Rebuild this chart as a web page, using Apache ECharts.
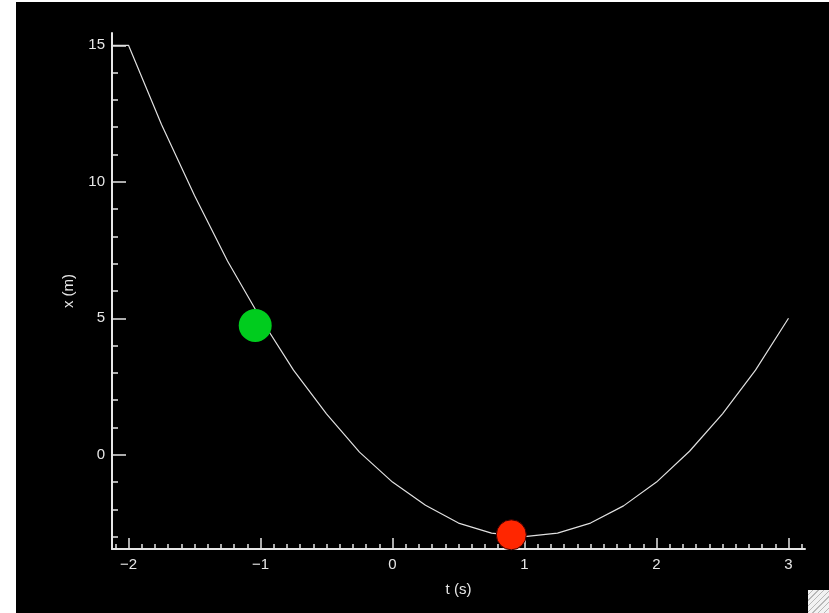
<!DOCTYPE html>
<html>
<head>
<meta charset="utf-8">
<script src="https://cdn.jsdelivr.net/npm/echarts@6/dist/echarts.min.js"></script>
<style>
html,body{margin:0;padding:0;background:#fff;width:829px;height:613px;overflow:hidden;position:relative;}
#bg{position:absolute;left:16px;top:2px;width:813px;height:611px;background:#000;}
#chart{position:absolute;left:16px;top:2px;width:813px;height:611px;}
#grip{position:absolute;left:808px;top:590px;width:21px;height:23px;
  background:repeating-linear-gradient(135deg,#f2f2f2 0px,#f2f2f2 3px,#b8b8b8 3px,#b8b8b8 4px);}
</style>
</head>
<body>
<div id="bg"></div>
<div id="chart"></div>
<div id="grip"></div>
<script>
// curve samples: time t (s) and position x (m)
const tValues = [-2.12, -2.0, -1.75, -1.5, -1.25, -1.0, -0.75, -0.5, -0.25, 0.0, 0.25, 0.5, 0.75, 1.0, 1.25, 1.5, 1.75, 2.0, 2.25, 2.5, 2.75, 3.0];
const xValues = [15.0, 15.0, 12.1, 9.5, 7.1, 5.0, 3.1, 1.5, 0.1, -1.0, -1.85, -2.5, -2.87, -3.0, -2.87, -2.5, -1.87, -1.0, 0.13, 1.5, 3.1, 5.0];
// markers
const greenPoint = [-1.04, 4.74];
const redPoint = [0.90, -2.93];
// ticks
const xMajorTicks = [-2, -1, 0, 1, 2, 3];
const yMajorTicks = [0, 5, 10, 15];
const xMinorTicks = [];
for (let i = -21; i <= 31; i++) xMinorTicks.push(i / 10);
const yMinorTicks = [];
for (let i = -3; i <= 15; i++) yMinorTicks.push(i);

const fg = '#e6e6e6';
const fontFamily = 'Liberation Sans, DejaVu Sans, sans-serif';
const fmt = v => String(v).replace('-', '\u2212');

const chart = echarts.init(document.getElementById('chart'), null, {renderer: 'canvas'});
chart.setOption({
  backgroundColor: 'transparent',
  animation: false,
  grid: {left: 96, top: 31, width: 693, height: 516, containLabel: false},
  xAxis: [{
    type: 'value', min: -2.125, max: 3.125,
    axisLine: {show: true, onZero: false, lineStyle: {color: fg, width: 2}},
    axisTick: {show: true, inside: true, length: 11, customValues: xMajorTicks, lineStyle: {color: fg, width: 1.5}},
    axisLabel: {show: true, customValues: xMajorTicks, formatter: fmt, color: fg, fontSize: 15, fontFamily: fontFamily, margin: 8},
    splitLine: {show: false},
    name: 't (s)', nameLocation: 'middle', nameGap: 33,
    nameTextStyle: {color: fg, fontSize: 15, fontFamily: fontFamily}
  }, {
    type: 'value', min: -2.125, max: 3.125, position: 'bottom',
    axisLine: {show: false, onZero: false},
    axisTick: {show: true, inside: true, length: 5, customValues: xMinorTicks, lineStyle: {color: fg, width: 1.5}},
    axisLabel: {show: false},
    splitLine: {show: false}
  }],
  yAxis: [{
    type: 'value', min: -3.45, max: 15.45,
    axisLine: {show: true, onZero: false, lineStyle: {color: fg, width: 2}},
    axisTick: {show: true, inside: true, length: 14, customValues: yMajorTicks, lineStyle: {color: fg, width: 1.5}},
    axisLabel: {show: true, customValues: yMajorTicks, formatter: fmt, color: fg, fontSize: 15, fontFamily: fontFamily, margin: 7},
    splitLine: {show: false},
    name: 'x (m)', nameLocation: 'middle', nameGap: 36, nameRotate: 90,
    nameTextStyle: {color: fg, fontSize: 15, fontFamily: fontFamily}
  }, {
    type: 'value', min: -3.45, max: 15.45, position: 'left',
    axisLine: {show: false, onZero: false},
    axisTick: {show: true, inside: true, length: 6, customValues: yMinorTicks, lineStyle: {color: fg, width: 1.5}},
    axisLabel: {show: false},
    splitLine: {show: false}
  }],
  series: [{
    type: 'line',
    data: tValues.map((t, i) => [t, xValues[i]]),
    showSymbol: false, symbol: 'none',
    lineStyle: {color: '#e0e0e0', width: 1.2},
    z: 2
  }, {
    type: 'scatter',
    data: [greenPoint],
    symbolSize: 33,
    itemStyle: {color: '#00cc1e', opacity: 1},
    z: 3
  }, {
    type: 'scatter',
    data: [redPoint],
    symbolSize: 30,
    itemStyle: {color: '#ff2600', borderColor: '#3a0000', borderWidth: 1, opacity: 1},
    z: 3
  }]
});
</script>
</body>
</html>
